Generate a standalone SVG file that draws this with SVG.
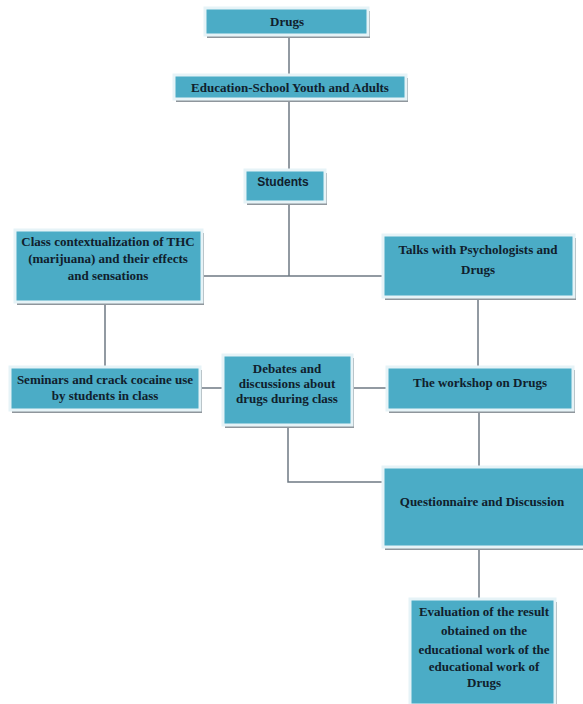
<svg xmlns="http://www.w3.org/2000/svg" width="583" height="704" viewBox="0 0 583 704">
<defs>
<style>
.box{fill:#4bacc6;stroke:#e6f3f7;stroke-width:3}
.sh{fill:#8f969c}
.t{font-family:"Liberation Serif","Times New Roman",serif;font-weight:bold;font-size:13px;fill:#10202c;text-anchor:middle}
.s{font-family:"Liberation Sans",Arial,sans-serif;font-weight:bold;font-size:12px;fill:#10202c;text-anchor:middle}
.c{fill:none;stroke:#6f7a84;stroke-width:1.5}
</style>
</defs>
<rect width="583" height="704" fill="#ffffff"/>
<g id="connectors">
<path class="c" d="M289 35V75M289 99V170M289 202V276M202 276H383"/>
<path class="c" d="M105 302V367M478 297V367"/>
<path class="c" d="M200 388H223M352 388H387"/>
<path class="c" d="M479 410V467M288 425V482H383M479 547V599"/>
</g>
<g id="n1"><rect class="sh" x="207" y="11" width="163" height="27"/><rect class="box" x="205" y="8" width="163" height="27"/><text class="t" x="287" y="26" font-size="14">Drugs</text></g>
<g id="n2"><rect class="sh" x="176" y="78" width="232" height="24"/><rect class="box" x="174" y="75" width="232" height="24"/><text class="t" x="290" y="92" font-size="13.8">Education-School Youth and Adults</text></g>
<g id="n3"><rect class="sh" x="247" y="173" width="80" height="32"/><rect class="box" x="245" y="170" width="80" height="32"/><text class="s" x="283" y="186">Students</text></g>
<g id="n4"><rect class="sh" x="17" y="233" width="187" height="72"/><rect class="box" x="15" y="230" width="187" height="72"/><text class="t" x="108" y="246">Class contextualization of THC</text><text class="t" x="108" y="263">(marijuana) and their effects</text><text class="t" x="108" y="280">and sensations</text></g>
<g id="n5"><rect class="sh" x="385" y="238" width="191" height="62"/><rect class="box" x="383" y="235" width="191" height="62"/><text class="t" x="478" y="254">Talks with Psychologists and</text><text class="t" x="478" y="274">Drugs</text></g>
<g id="n6"><rect class="sh" x="12" y="370" width="190" height="43"/><rect class="box" x="10" y="367" width="190" height="43"/><text class="t" x="105" y="384">Seminars and crack cocaine use</text><text class="t" x="105" y="400">by students in class</text></g>
<g id="n7"><rect class="sh" x="225" y="358" width="129" height="70"/><rect class="box" x="223" y="355" width="129" height="70"/><text class="t" x="287" y="373">Debates and</text><text class="t" x="287" y="388">discussions about</text><text class="t" x="287" y="403">drugs during class</text></g>
<g id="n8"><rect class="sh" x="389" y="370" width="186" height="43"/><rect class="box" x="387" y="367" width="186" height="43"/><text class="t" x="480" y="387">The workshop on Drugs</text></g>
<g id="n9"><rect class="sh" x="385" y="470" width="200" height="80"/><rect class="box" x="383" y="467" width="202" height="80"/><text class="t" x="482" y="506">Questionnaire and Discussion</text></g>
<g id="n10"><rect class="sh" x="412" y="602" width="145" height="104"/><rect class="box" x="410" y="599" width="145" height="106"/><text class="t" x="484" y="616" font-size="12.3">Evaluation of the result</text><text class="t" x="484" y="635" font-size="12.3">obtained on the</text><text class="t" x="484" y="654" font-size="12.3">educational work of the</text><text class="t" x="484" y="671" font-size="12.3">educational work of</text><text class="t" x="484" y="687" font-size="12.3">Drugs</text></g>
</svg>
